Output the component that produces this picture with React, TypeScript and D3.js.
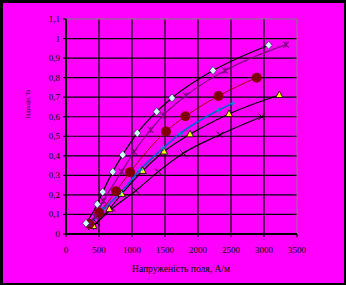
import React from "react";
import * as d3 from "d3";

const xTicks = [0, 500, 1000, 1500, 2000, 2500, 3000, 3500];
const yTicks = [0, 0.1, 0.2, 0.3, 0.4, 0.5, 0.6, 0.7, 0.8, 0.9, 1, 1.1];

const diamondX = [303, 474, 556, 708, 859, 1080, 1374, 1606, 2227, 3071];
const diamondY = [0.055, 0.152, 0.215, 0.318, 0.405, 0.516, 0.626, 0.696, 0.836, 0.966];

const purpleX = [350, 440, 565, 844, 1030, 1283, 1474, 1818, 2409, 3333];
const purpleY = [0.05, 0.09, 0.169, 0.319, 0.42, 0.533, 0.607, 0.708, 0.836, 0.969];

const circleX = [353, 504, 758, 970, 1515, 1808, 2311, 2889];
const circleY = [0.051, 0.109, 0.219, 0.316, 0.525, 0.602, 0.706, 0.8];

const blueX = [364, 556, 829, 1121, 1474, 1727, 2303, 2530];
const blueY = [0.046, 0.123, 0.212, 0.328, 0.44, 0.513, 0.632, 0.669];

const triX = [414, 656, 844, 1162, 1485, 1879, 2470, 3232];
const triY = [0.041, 0.127, 0.205, 0.323, 0.422, 0.51, 0.614, 0.711];

const crossX = [380, 465, 700, 1060, 1398, 1777, 2333, 2965];
const crossY = [0.035, 0.058, 0.13, 0.222, 0.319, 0.413, 0.508, 0.6];

const xTitle = "Напруженість поля, А/м";
const yTitle = "Індукція, Тл";

export default function App() {
  const W = 346, H = 285;
  const x = d3.scaleLinear().domain([0, 3500]).range([66, 297]);
  const y = d3.scaleLinear().domain([0, 1.1]).range([234, 19]);
  const line = (xs: number[], ys: number[]) =>
    d3.line<number>().x((_, i) => x(xs[i])).y((_, i) => y(ys[i])).curve(d3.curveMonotoneX)(xs) || "";
  const fmt = (v: number) => String(Math.round(v * 10) / 10).replace(".", ",");
  const font = "Liberation Serif, serif";

  return (
    <svg width={W} height={H} style={{ position: "absolute", left: 0, top: 0 }}>
      <rect x={0} y={0} width={W} height={H} fill="#000" />
      <rect x={3} y={3} width={341} height={280} fill="#FF00FF" />
      {/* grid */}
      {xTicks.slice(1, -1).map((t) => (
        <line key={"gx" + t} x1={x(t)} x2={x(t)} y1={y(1.1)} y2={y(0)} stroke="#000" strokeWidth={1.2} />
      ))}
      {yTicks.slice(1, -1).map((t) => (
        <line key={"gy" + t} x1={x(0)} x2={x(3500)} y1={y(t)} y2={y(t)} stroke="#000" strokeWidth={1.2} />
      ))}
      <line x1={x(0)} x2={x(3500)} y1={y(1.1)} y2={y(1.1)} stroke="#808080" />
      <line x1={x(3500)} x2={x(3500)} y1={y(1.1)} y2={y(0)} stroke="#808080" />
      {/* axes */}
      <line x1={x(0)} x2={x(0)} y1={y(1.1)} y2={y(0) + 1} stroke="#000" strokeWidth={2} />
      <line x1={x(0) - 1} x2={x(3500)} y1={y(0)} y2={y(0)} stroke="#000" strokeWidth={2} />
      {yTicks.map((t) => (
        <g key={"yt" + t}>
          <line x1={x(0) - 3} x2={x(0)} y1={y(t)} y2={y(t)} stroke="#000" strokeWidth={1.2} />
          <text x={60} y={y(t) + 3} fontSize={9} fontFamily={font} textAnchor="end" fill="#000">{fmt(t)}</text>
        </g>
      ))}
      {xTicks.map((t) => (
        <g key={"xt" + t}>
          <line x1={x(t)} x2={x(t)} y1={y(0)} y2={y(0) + 3} stroke="#000" strokeWidth={1.2} />
          <text x={x(t)} y={253} fontSize={9} fontFamily={font} textAnchor="middle" fill="#000">{t}</text>
        </g>
      ))}
      <text x={181} y={272} fontSize={9.5} fontFamily={font} textAnchor="middle" fill="#000">{xTitle}</text>
      <text transform="translate(30,104) rotate(-90)" fontSize={5.5} fontFamily={font} textAnchor="middle" fill="#000">{yTitle}</text>

      {/* series lines */}
      <path d={line(crossX, crossY)} fill="none" stroke="#000" strokeWidth={1.2} />
      <path d={line(triX, triY)} fill="none" stroke="#000" strokeWidth={1.2} />
      <path d={line(blueX, blueY)} fill="none" stroke="#0066CC" strokeWidth={1.6} />
      <path d={line(circleX, circleY)} fill="none" stroke="#990000" strokeWidth={1} />
      <path d={line(purpleX, purpleY)} fill="none" stroke="#800080" strokeWidth={1.2} />
      <path d={line(diamondX, diamondY)} fill="none" stroke="#000" strokeWidth={1.2} />

      {/* markers */}
      {crossX.map((v, i) => (
        <path key={"c" + i} d={`M${x(v) - 3},${y(crossY[i]) - 3}L${x(v) + 3},${y(crossY[i]) + 3}M${x(v) - 3},${y(crossY[i]) + 3}L${x(v) + 3},${y(crossY[i]) - 3}`} stroke="#000" strokeWidth={1} />
      ))}
      {triX.map((v, i) => (
        <path key={"t" + i} d={`M${x(v)},${y(triY[i]) - 4}L${x(v) + 3.5},${y(triY[i]) + 2.5}L${x(v) - 3.5},${y(triY[i]) + 2.5}Z`} fill="#FFFF00" stroke="#000" strokeWidth={0.8} />
      ))}
      {blueX.map((v, i) => (
        <path key={"b" + i} d={`M${x(v) - 3},${y(blueY[i])}L${x(v) + 3},${y(blueY[i])}M${x(v)},${y(blueY[i]) - 3}L${x(v)},${y(blueY[i]) + 3}`} stroke="#0099CC" strokeWidth={1} />
      ))}
      {circleX.map((v, i) => (
        <circle key={"o" + i} cx={x(v)} cy={y(circleY[i])} r={5} fill="#800000" />
      ))}
      {purpleX.map((v, i) => (
        <path key={"p" + i} d={`M${x(v) - 3},${y(purpleY[i]) - 3}L${x(v) + 3},${y(purpleY[i]) + 3}M${x(v) - 3},${y(purpleY[i]) + 3}L${x(v) + 3},${y(purpleY[i]) - 3}M${x(v)},${y(purpleY[i]) - 3}L${x(v)},${y(purpleY[i]) + 3}`} stroke="#800080" strokeWidth={1.2} />
      ))}
      {diamondX.map((v, i) => (
        <path key={"d" + i} d={`M${x(v)},${y(diamondY[i]) - 4}L${x(v) + 3.5},${y(diamondY[i])}L${x(v)},${y(diamondY[i]) + 4}L${x(v) - 3.5},${y(diamondY[i])}Z`} fill="#CCFFFF" stroke="#000" strokeWidth={0.5} />
      ))}
    </svg>
  );
}
